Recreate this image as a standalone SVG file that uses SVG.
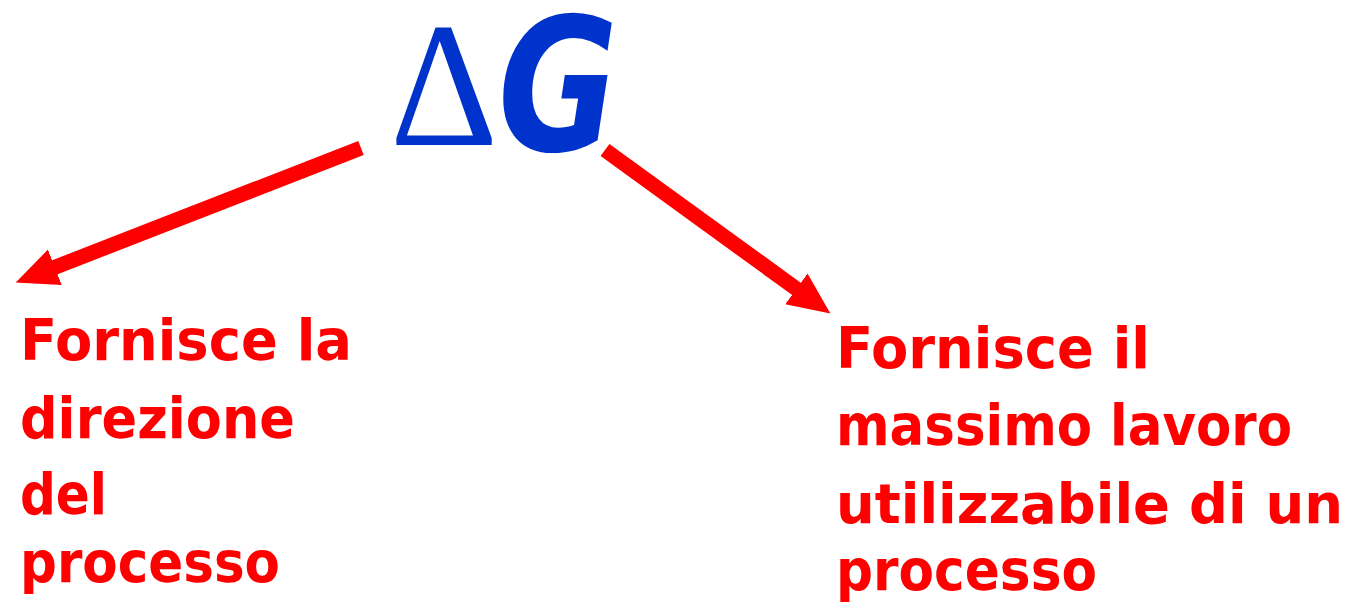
<svg xmlns="http://www.w3.org/2000/svg" width="1356" height="613" viewBox="0 0 1356 613">
<style>
.lbl{font-family:"DejaVu Sans","Liberation Sans",sans-serif;font-weight:bold;font-size:57px;fill:#FF0000}
.conn{stroke:#FF0000;stroke-width:15;fill:none}
</style>
<defs>
<marker id="ah" markerUnits="userSpaceOnUse" markerWidth="46" markerHeight="42" viewBox="0 -21 46 42" refX="2" refY="0" orient="auto">
<path d="M0,-19 L42,0 L0,19 z" fill="#FF0000"/>
</marker>
</defs>
<rect width="1356" height="613" fill="#FFFFFF"/>
<g id="title">
<text x="390" y="145" font-family="Liberation Serif,serif" font-size="178" fill="#0033CC" textLength="108" lengthAdjust="spacingAndGlyphs">Δ</text>
<text x="498" y="150" font-family="DejaVu Sans,sans-serif" font-weight="bold" font-style="italic" font-size="186" fill="#0033CC" textLength="120" lengthAdjust="spacingAndGlyphs">G</text>
</g>
<g id="connectors">
<line class="conn" x1="361" y1="148" x2="53" y2="268" marker-end="url(#ah)"/>
<line class="conn" x1="605" y1="150" x2="798" y2="290" marker-end="url(#ah)"/>
</g>
<g id="left-label">
<text class="lbl" x="20" y="360" textLength="332" lengthAdjust="spacingAndGlyphs">Fornisce la</text>
<text class="lbl" x="20" y="438" textLength="275" lengthAdjust="spacingAndGlyphs">direzione</text>
<text class="lbl" x="20" y="514" textLength="87" lengthAdjust="spacingAndGlyphs">del</text>
<text class="lbl" x="20" y="582" textLength="260" lengthAdjust="spacingAndGlyphs">processo</text>
</g>
<g id="right-label">
<text class="lbl" x="836" y="368" textLength="314" lengthAdjust="spacingAndGlyphs">Fornisce il</text>
<text class="lbl" x="836" y="445" textLength="456" lengthAdjust="spacingAndGlyphs">massimo lavoro</text>
<text class="lbl" x="836" y="523" font-size="55" style="font-size:55px" textLength="507" lengthAdjust="spacingAndGlyphs">utilizzabile di un</text>
<text class="lbl" x="836" y="590" textLength="261" lengthAdjust="spacingAndGlyphs">processo</text>
</g>
</svg>
